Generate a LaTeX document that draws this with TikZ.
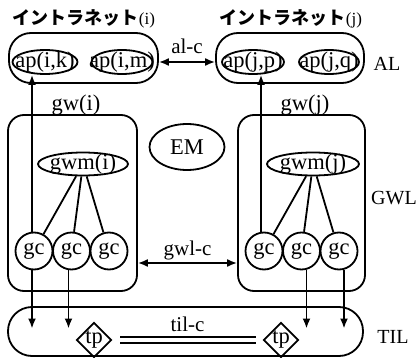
\documentclass[tikz,border=0pt]{standalone}
\usepackage{fontspec}
\setmainfont{Liberation Serif}
\newfontfamily\jpfont{Noto Sans CJK JP}
\usetikzlibrary{shapes.geometric,arrows.meta}

\begin{document}
\begin{tikzpicture}[
        x=1pt, y=-1pt,
        >={Latex[length=10pt,width=8pt]},
        line width=1.8pt,
        node distance=37.5pt,
        every node/.style={font=\fontsize{22.5}{24}\selectfont},
        box/.style={draw, rectangle, rounded corners=#1, inner sep=0pt},
        oval/.style={draw, ellipse, inner sep=0pt},
        gc/.style={draw, circle, minimum size=37pt, inner sep=0pt},
        tp/.style={draw, diamond, minimum width=35pt, minimum height=33pt, inner sep=0pt},
        layer/.style={font=\fontsize{20}{22}\selectfont},
        conn/.style={font=\fontsize{21}{23}\selectfont, inner sep=2pt},
        title/.style={font=\jpfont\bfseries\fontsize{18}{20}\selectfont}
        ]
\useasboundingbox (0,0) rectangle (417,358);

% AL
\node[title] (titlei) at (84,19) {イントラネット{\rmfamily\mdseries\fontsize{17}{19}\selectfont(i)}};
\node[title] (titlej) at (291,19) {イントラネット{\rmfamily\mdseries\fontsize{17}{19}\selectfont(j)}};
\node[box=22, minimum width=149, minimum height=50] (neti) at (83.5,58) {};
\node[box=22, minimum width=148, minimum height=50] (netj) at (290,58) {};
\node[oval, minimum width=65, minimum height=24, label=center:{ap(i,k)}] (apik) at (45,62) {};
\node[oval, minimum width=61, minimum height=24, label=center:{ap(i,m)}] (apim) at (122,62) {};
\node[oval, minimum width=62, minimum height=24, label=center:{ap(j,p)}] (apjp) at (253,62) {};
\node[oval, minimum width=60, minimum height=24, label=center:{ap(j,q)}] (apjq) at (329,62) {};
\node[layer] (al) at (387,64) {AL};

% GWL
\node[box=16, minimum width=129, minimum height=176] (gwi) at (72.5,203) {};
\node[box=16, minimum width=127, minimum height=176] (gwj) at (301.5,203) {};
\node (gwlabi) at (76,105) {gw(i)};
\node (gwlabj) at (305,105) {gw(j)};
\node[oval, minimum width=75, minimum height=46, label=center:{EM}] (em) at (187,147) {};
\node[oval, minimum width=90, minimum height=23, label=center:{gwm(i)}] (gwmi) at (83,164) {};
\node[oval, minimum width=92, minimum height=23, label=center:{gwm(j)}] (gwmj) at (313,164) {};
\node[gc] (gci1) at (34,251) {gc};
\node[gc] (gci2) [right of = gci1] {gc};
\node[gc] (gci3) [right of = gci2] {gc};
\node[gc] (gcj1) at (264,251) {gc};
\node[gc] (gcj2) [right of = gcj1] {gc};
\node[gc] (gcj3) [right of = gcj2] {gc};
\node[layer] (gwl) at (394,198) {GWL};

% TIL
\node[box=24, minimum width=355, minimum height=49] (til) at (185.5,331.5) {};
\node[tp] (tpi) at (94,340) {tp};
\node[tp] (tpj) at (281,340) {tp};
\node[layer] (tillab) at (393,337) {TIL};

\path (gwmi) edge (gci1) edge (gci2) edge (gci3)
      (gwmj) edge (gcj1) edge (gcj2) edge (gcj3);

\draw[->] ([xshift=-2pt]gci1.north) -- ([xshift=-2pt]gci1.north |- apik.south);
\draw[->] ([xshift=-3pt]gcj1.north) -- ([xshift=-3pt]gcj1.north |- apjp.south);

\draw[->, shorten >=3pt] ([xshift=-2pt]gci1.south) -- ([xshift=-2pt]gci1.south |- til.center);
\draw[->, shorten >=3pt] ([xshift=-3pt]gci2.south) -- ([xshift=-3pt]gci2.south |- til.center);
\draw[->, shorten >=3pt] ([xshift=5pt]gcj2.south) -- ([xshift=5pt]gcj2.south |- til.center);
\draw[->, shorten >=3pt] ([xshift=5pt]gcj3.south) -- ([xshift=5pt]gcj3.south |- til.center);

\draw[<->] (neti.east |- apim.center) -- node[conn, above=5pt] {al-c} (netj.west |- apjp.center);
\draw[<->] ([yshift=-60pt]gwi.east) -- node[conn, above] {gwl-c} ([yshift=-60pt]gwj.west);
\draw[double, double distance=4pt, line width=1.8pt, shorten <=8pt, shorten >=7pt]
      (tpi) -- node[conn, above=5pt] {til-c} (tpj);
\end{tikzpicture}
\end{document}
